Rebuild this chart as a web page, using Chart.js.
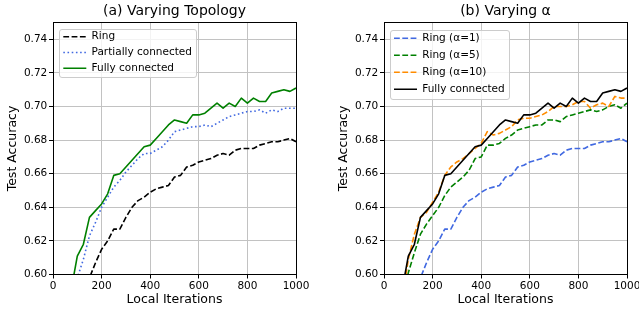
<!DOCTYPE html>
<html><head><meta charset="utf-8">
<script src="https://cdn.jsdelivr.net/npm/chart.js@4.4.1/dist/chart.umd.min.js"></script>
<style>
html,body{margin:0;padding:0;background:#fff;overflow:hidden;}
#wrap{position:relative;width:639px;height:312px;overflow:hidden;background:#fff;}
canvas{position:absolute;top:0;}
#c1{left:0px;}
#c2{left:331px;}
</style></head><body>
<div id="wrap"><canvas id="c1" width="320" height="312"></canvas><canvas id="c2" width="320" height="312"></canvas></div>
<script>
// ---- data ----
const ITERS = [0,25,50,75,100,125,150,175,200,225,250,275,300,325,350,375,400,425,450,475,500,525,550,575,600,625,650,675,700,725,750,775,800,825,850,875,900,925,950,975,1000];
const X_TICKS = [0,200,400,600,800,1000];
const Y_TICKS = [0.60,0.62,0.64,0.66,0.68,0.70,0.72,0.74];
const Y_MIN = 0.60, Y_MAX = 0.75, X_MIN = 0, X_MAX = 1000;

const RING = [null,null,null,null,null,0.585,0.598,0.607,0.615,0.620,0.627,0.627,0.634,0.640,0.644,0.646,0.649,0.651,0.652,0.653,0.658,0.659,0.664,0.665,0.667,0.668,0.669,0.671,0.672,0.671,0.674,0.675,0.675,0.675,0.677,0.678,0.679,0.679,0.680,0.681,0.679];
const PARTIAL = [null,null,null,0.580,0.598,0.609,0.623,0.631,0.640,0.646,0.652,0.656,0.661,0.665,0.669,0.672,0.672,0.674,0.676,0.680,0.685,0.686,0.687,0.688,0.688,0.689,0.688,0.690,0.692,0.694,0.695,0.696,0.697,0.697,0.698,0.696,0.698,0.697,0.699,0.699,0.699];
const FULL = [null,null,null,0.591,0.611,0.618,0.634,0.638,0.642,0.648,0.659,0.660,0.664,0.668,0.672,0.676,0.677,0.681,0.685,0.689,0.692,0.691,0.690,0.695,0.695,0.696,0.699,0.702,0.699,0.702,0.700,0.705,0.702,0.705,0.703,0.703,0.708,0.709,0.710,0.709,0.711];
const RING_A5 = [null,null,null,0.585,0.601,0.613,0.624,0.630,0.635,0.640,0.647,0.652,0.655,0.658,0.662,0.669,0.670,0.677,0.677,0.678,0.681,0.683,0.686,0.687,0.688,0.689,0.689,0.692,0.692,0.691,0.694,0.695,0.696,0.697,0.698,0.697,0.698,0.700,0.701,0.699,0.702];
const RING_A10 = [null,null,null,0.585,0.609,0.624,0.634,0.637,0.643,0.649,0.659,0.664,0.667,0.669,0.672,0.675,0.678,0.685,0.683,0.684,0.686,0.688,0.692,0.693,0.693,0.694,0.695,0.697,0.700,0.700,0.700,0.701,0.703,0.703,0.699,0.701,0.702,0.700,0.706,0.705,0.705];

const LABELS_A = ['Ring','Partially connected','Fully connected'];
const LABELS_B = ['Ring (α=1)','Ring (α=5)','Ring (α=10)','Fully connected'];

// ---- styling ----
const FONT = 'DejaVu Sans';
Chart.defaults.font.family = FONT;
Chart.defaults.color = '#000';
const DASH = [5.8, 2.5], DOT = [1.6, 2.6], LW = 1.6;

function pts(vals){ return ITERS.map((x,i)=>({x:x, y:vals[i]})); }
function ds(label, vals, color, dash){
  return {label, data:pts(vals), borderColor:color, backgroundColor:color, borderWidth:LW,
    borderDash:dash, pointRadius:0, pointHoverRadius:0, tension:0, fill:false, clip:0,
    borderJoinStyle:'round', borderCapStyle:'butt', spanGaps:false};
}

function alignPx(p){ return Math.round(p - 0.5) + 0.5; }

const framePlugin = {
  id:'frameLegend',
  afterLayout(chart, args, opts){
    const lg = chart.legend, ca = chart.chartArea;
    lg.left = ca.left + opts.dx; lg.top = ca.top + opts.dy;
    lg.right = ca.right; lg.bottom = ca.bottom;
    if (!lg._realDraw){ lg._realDraw = lg.draw.bind(lg); lg.draw = function(){}; }
  },
  afterDatasetsDraw(chart, args, opts){
    const ctx = chart.ctx, ca = chart.chartArea;
    ctx.save();
    ctx.setLineDash([]); ctx.strokeStyle = '#000'; ctx.lineWidth = 1;
    const l = alignPx(ca.left), r = alignPx(ca.right), t = alignPx(ca.top), b = alignPx(ca.bottom);
    ctx.strokeRect(l, t, r - l, b - t);
    // legend frame
    const lg = chart.legend;
    const pad = lg.options.labels.padding, fs = 10.5, n = lg.legendItems.length;
    const sx = lg.left + pad;
    const c0 = lg.top + pad + fs/2, cN = c0 + (n-1)*(fs+pad);
    ctx.font = fs + 'px "' + FONT + '"';
    let mw = 0; lg.legendItems.forEach(it => { mw = Math.max(mw, ctx.measureText(it.text).width); });
    const textX = sx + 23 + fs/2;
    const x0 = Math.round(sx - 4) + 0.5, y0 = Math.round(c0 - opts.boxTop) + 0.5;
    const x1 = Math.round(textX + mw + 4.5) + 0.5, y1 = Math.round(cN + opts.boxBottom) + 0.5;
    ctx.beginPath();
    if (ctx.roundRect) ctx.roundRect(x0, y0, x1 - x0, y1 - y0, 2.5); else ctx.rect(x0, y0, x1 - x0, y1 - y0);
    ctx.fillStyle = 'rgba(255,255,255,0.8)'; ctx.fill();
    ctx.strokeStyle = '#cccccc'; ctx.lineWidth = 1; ctx.stroke();
    ctx.restore();
    lg._realDraw();
  }
};

function makeChart(id, title, datasets, lgOpts){
  return new Chart(document.getElementById(id), {
    type:'line',
    data:{datasets},
    plugins:[framePlugin],
    options:{
      responsive:false, animation:false, devicePixelRatio:1,
      events:[],
      layout:{padding:{left:0, right:24, top:0, bottom:0}},
      plugins:{
        title:{display:true, text:title, fullSize:false, font:{size:14, weight:'normal'}, color:'#000', padding:{top:3, bottom:2.7}},
        tooltip:{enabled:false},
        legend:{
          display:true, position:'chartArea', align:'start',
          labels:{
            usePointStyle:true, pointStyle:'line', pointStyleWidth:23, padding:lgOpts.pad,
            font:{size:10.5}, color:'#000',
            generateLabels(chart){
              return chart.data.datasets.map((d,i)=>({text:d.label, strokeStyle:d.borderColor, fillStyle:d.borderColor,
                lineWidth:d.borderWidth, lineDash:d.borderDash, lineCap:'butt', lineJoin:'round',
                pointStyle:'line', hidden:false, datasetIndex:i, fontColor:'#000'}));
            }
          }
        },
        frameLegend:{dx:lgOpts.dx, dy:lgOpts.dy, boxTop:lgOpts.boxTop, boxBottom:lgOpts.boxBottom}
      },
      scales:{
        x:{
          type:'linear', min:X_MIN, max:X_MAX,
          afterBuildTicks(s){ s.ticks = X_TICKS.map(v=>({value:v})); },
          afterFit(s){ s.height = 37.5; s.paddingLeft = 0; s.paddingRight = 0; },
          ticks:{font:{size:10.5}, color:'#000', padding:1, maxRotation:0, autoSkip:false, callback:(v)=>String(v)},
          grid:{color:'#c2c2c2', lineWidth:1, tickColor:'#000', tickLength:4, tickWidth:1, drawTicks:true},
          border:{display:true, color:'#000', width:1},
          title:{display:true, text:'Local Iterations', font:{size:12.5}, color:'#000', padding:{top:0, bottom:5.1}}
        },
        y:{
          type:'linear', min:Y_MIN, max:Y_MAX,
          afterBuildTicks(s){ s.ticks = Y_TICKS.map(v=>({value:v})); },
          afterFit(s){ s.width = 53; s.paddingTop = 0; s.paddingBottom = 0; },
          ticks:{font:{size:10.5}, color:'#000', padding:1.7, autoSkip:false, callback:(v)=>Number(v).toFixed(2)},
          grid:{color:'#c2c2c2', lineWidth:1, tickColor:'#000', tickLength:4, tickWidth:1, drawTicks:true},
          border:{display:true, color:'#000', width:1},
          title:{display:true, text:'Test Accuracy', font:{size:12.5}, color:'#000', padding:{top:5, bottom:0}}
        }
      }
    }
  });
}

makeChart('c1', '(a) Varying Topology', [
  ds(LABELS_A[0], RING, '#000000', DASH),
  ds(LABELS_A[1], PARTIAL, '#4169e1', DOT),
  ds(LABELS_A[2], FULL, '#008000', [])
].map((d,i)=>Object.assign(d,{order:-i})), {pad:5.3, dx:5, dy:3.65, boxTop:7.7, boxBottom:9});

makeChart('c2', '(b) Varying α', [
  ds(LABELS_B[0], RING, '#4169e1', DASH),
  ds(LABELS_B[1], RING_A5, '#008000', DASH),
  ds(LABELS_B[2], RING_A10, '#ff8c00', DASH),
  ds(LABELS_B[3], FULL, '#000000', [])
].map((d,i)=>Object.assign(d,{order:-i})), {pad:6.5, dx:3.5, dy:4, boxTop:8.3, boxBottom:10});
</script>
</body></html>
